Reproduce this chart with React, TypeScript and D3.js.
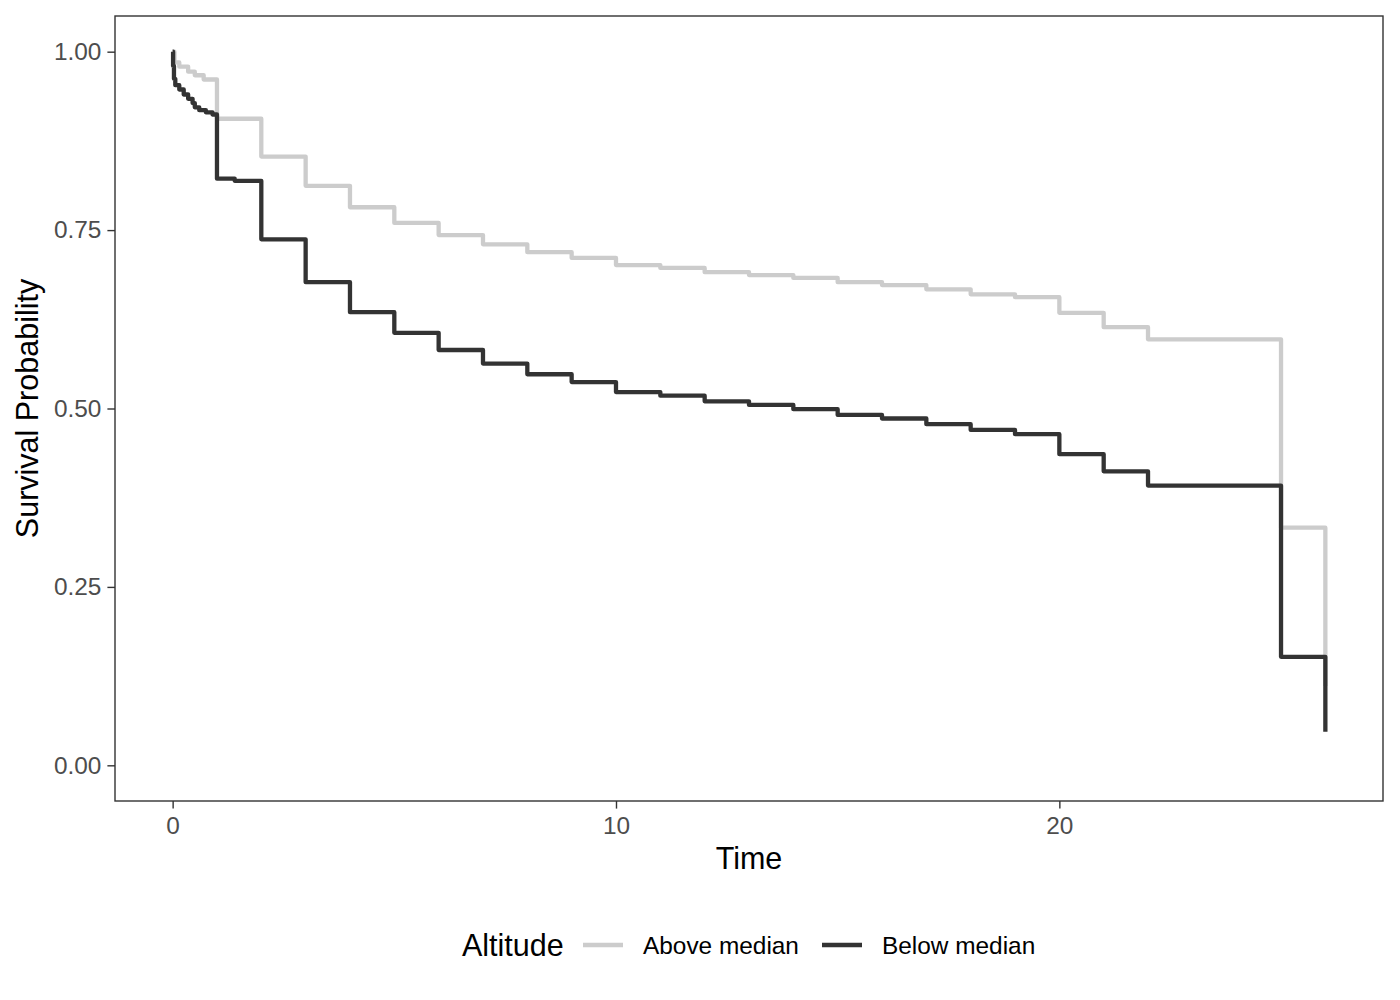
import { useEffect, useRef } from "react";
import * as d3 from "d3";

// Kaplan-Meier step values
const aboveTime = [0, 0.04, 0.15, 0.35, 0.5, 0.7, 1, 2, 3, 4, 5, 6, 7, 8, 9, 10, 11, 12, 13, 14, 15, 16, 17, 18, 19, 20, 21, 22, 25, 26];
const aboveSurv = [1, 0.985, 0.979, 0.972, 0.967, 0.961, 0.906, 0.853, 0.812, 0.782, 0.76, 0.743, 0.73, 0.719, 0.711, 0.701, 0.697, 0.691, 0.687, 0.683, 0.677, 0.673, 0.667, 0.66, 0.656, 0.634, 0.614, 0.597, 0.333, 0.111];

const belowTime = [0, 0.01, 0.03, 0.06, 0.15, 0.25, 0.35, 0.45, 0.5, 0.6, 0.75, 0.9, 1, 1.4, 2, 3, 4, 5, 6, 7, 8, 9, 10, 11, 12, 13, 14, 15, 16, 17, 18, 19, 20, 21, 22, 25, 26];
const belowSurv = [1, 0.98, 0.962, 0.953, 0.947, 0.94, 0.934, 0.928, 0.922, 0.918, 0.915, 0.912, 0.822, 0.819, 0.737, 0.677, 0.635, 0.606, 0.582, 0.563, 0.548, 0.537, 0.523, 0.518, 0.51, 0.505, 0.499, 0.491, 0.486, 0.478, 0.47, 0.464, 0.436, 0.412, 0.392, 0.152, 0.047];

const groups = ["Above median", "Below median"];
const groupColors = ["#cccccc", "#333333"];
const xTicks = [0, 10, 20];
const yTicks = [0, 0.25, 0.5, 0.75, 1];

const width = 1400;
const height = 1000;
const panel = { left: 115, right: 1383, top: 16, bottom: 801 };
const font = "'Liberation Sans', Arial, sans-serif";

export default function App() {
  const ref = useRef<SVGSVGElement>(null);

  useEffect(() => {
    const svg = d3.select(ref.current);
    svg.selectAll("*").remove();

    const x = d3.scaleLinear().domain([-1.3, 27.3]).range([panel.left, panel.right]);
    const y = d3.scaleLinear().domain([-0.05, 1.05]).range([panel.bottom, panel.top]);

    svg.append("rect").attr("width", width).attr("height", height).attr("fill", "white");

    const series = [
      { name: groups[0], color: groupColors[0], pts: aboveTime.map((t, i) => [t, aboveSurv[i]]) },
      { name: groups[1], color: groupColors[1], pts: belowTime.map((t, i) => [t, belowSurv[i]]) },
    ];

    const line = d3
      .line<number[]>()
      .x((d) => x(d[0]))
      .y((d) => y(d[1]))
      .curve(d3.curveStepAfter);

    series.forEach((s) => {
      svg
        .append("path")
        .attr("d", line(s.pts))
        .attr("fill", "none")
        .attr("stroke", s.color)
        .attr("stroke-width", 4.3)
        .attr("stroke-linejoin", "round");
    });

    svg
      .append("rect")
      .attr("x", panel.left)
      .attr("y", panel.top)
      .attr("width", panel.right - panel.left)
      .attr("height", panel.bottom - panel.top)
      .attr("fill", "none")
      .attr("stroke", "#333333")
      .attr("stroke-width", 1.4);

    const yAxis = svg
      .append("g")
      .attr("transform", `translate(${panel.left},0)`)
      .call(
        d3.axisLeft(y).tickValues(yTicks).tickFormat(d3.format(".2f")).tickSize(7.6).tickPadding(6)
      );
    const xAxis = svg
      .append("g")
      .attr("transform", `translate(0,${panel.bottom})`)
      .call(d3.axisBottom(x).tickValues(xTicks).tickFormat(d3.format("d")).tickSize(7.6).tickPadding(8));

    [yAxis, xAxis].forEach((g) => {
      g.select(".domain").remove();
      g.selectAll(".tick line").attr("stroke", "#333333").attr("stroke-width", 1.4);
      g.selectAll(".tick text")
        .attr("fill", "#4d4d4d")
        .style("font-family", font)
        .style("font-size", "24.4px");
    });

    svg
      .append("text")
      .attr("x", (panel.left + panel.right) / 2)
      .attr("y", 869)
      .attr("text-anchor", "middle")
      .style("font-family", font)
      .style("font-size", "30.5px")
      .text("Time");

    svg
      .append("text")
      .attr("transform", `translate(38,${(panel.top + panel.bottom) / 2}) rotate(-90)`)
      .attr("text-anchor", "middle")
      .style("font-family", font)
      .style("font-size", "30.5px")
      .text("Survival Probability");

    // legend
    const legend = svg.append("g");
    legend
      .append("text")
      .attr("x", 462)
      .attr("y", 956)
      .style("font-family", font)
      .style("font-size", "30.5px")
      .text("Altitude");

    const keyX = [583, 822];
    series.forEach((s, i) => {
      legend
        .append("line")
        .attr("x1", keyX[i])
        .attr("x2", keyX[i] + 40)
        .attr("y1", 945)
        .attr("y2", 945)
        .attr("stroke", s.color)
        .attr("stroke-width", 4.3);
      legend
        .append("text")
        .attr("x", keyX[i] + 60)
        .attr("y", 954)
        .style("font-family", font)
        .style("font-size", "24.4px")
        .text(s.name);
    });
  }, []);

  return (
    <div style={{ position: "absolute", left: 0, top: 0 }}>
      <svg ref={ref} width={width} height={height} />
    </div>
  );
}
